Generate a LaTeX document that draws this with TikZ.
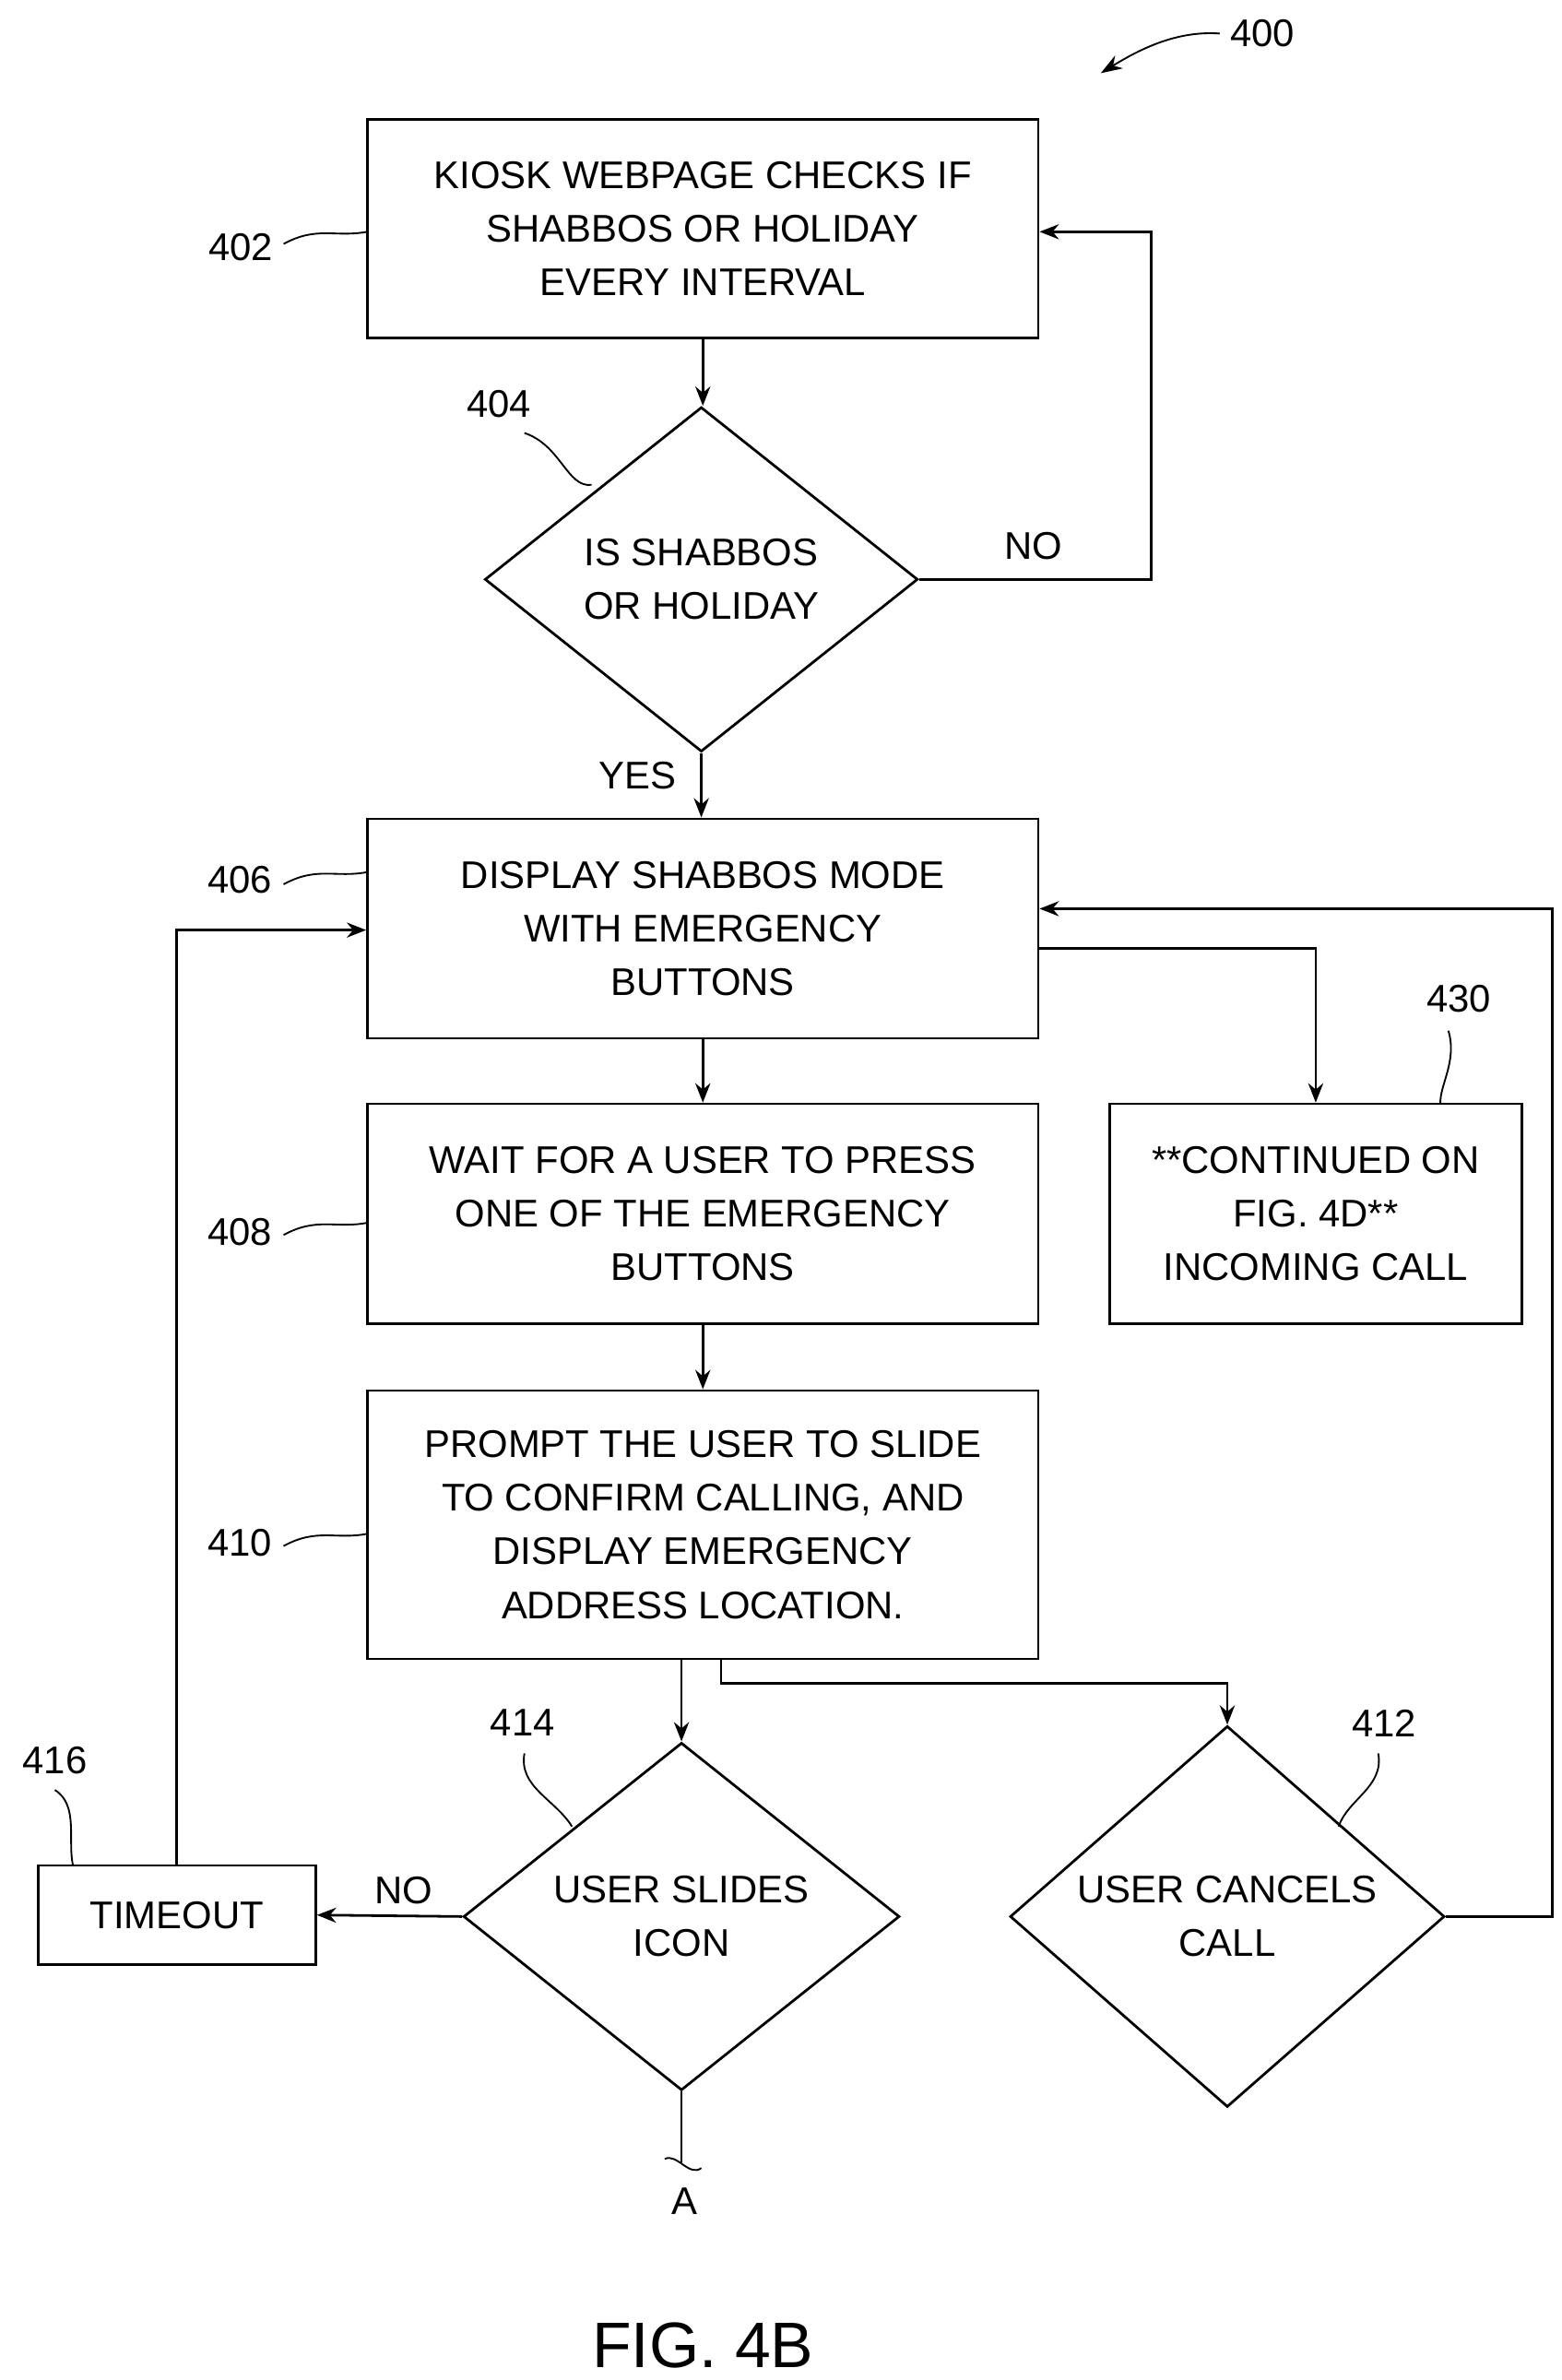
\documentclass[tikz,border=0pt]{standalone}
\usepackage{fontspec}
\setmainfont{Liberation Sans}
\usetikzlibrary{shapes.geometric,arrows.meta}
\begin{document}
\begin{tikzpicture}[
  every node/.style={font=\fontsize{18}{25}\selectfont},
  box/.style={draw,line width=1.2pt,align=center,inner sep=0pt,minimum width=11cm},
  dia/.style={draw,diamond,line width=1.2pt,align=center,inner sep=0pt},
  ar/.style={line width=1.2pt,-{Stealth[length=9pt,width=7pt]}},
  ln/.style={line width=1.2pt},
  lead/.style={line width=0.8pt}]
\useasboundingbox (0,0) rectangle (25.6,-39.025);
\node[box,minimum height=3.575cm] (b402) at (11.525,-3.75) {KIOSK WEBPAGE CHECKS IF\\SHABBOS OR HOLIDAY\\EVERY INTERVAL};
\node[dia,minimum width=7.1cm,minimum height=5.65cm] (d404) at (11.5,-9.5) {IS SHABBOS\\OR HOLIDAY};
\node[box,minimum height=3.6cm] (b406) at (11.525,-15.225) {DISPLAY SHABBOS MODE\\WITH EMERGENCY\\BUTTONS};
\node[box,minimum height=3.6cm] (b408) at (11.525,-19.9) {WAIT FOR A USER TO PRESS\\ONE OF THE EMERGENCY\\BUTTONS};
\node[box,minimum width=6.75cm,minimum height=3.6cm] (b430) at (21.575,-19.9) {**CONTINUED ON\\FIG. 4D**\\INCOMING CALL};
\node[box,minimum height=4.4cm] (b410) at (11.525,-25) {PROMPT THE USER TO SLIDE\\TO CONFIRM CALLING, AND\\DISPLAY EMERGENCY\\ADDRESS LOCATION.};
\node[dia,minimum width=7.15cm,minimum height=5.7cm] (d414) at (11.175,-31.425) {USER SLIDES\\ICON};
\node[dia,minimum width=7.125cm,minimum height=5.7cm] (d412) at (20.125,-31.425) {USER CANCELS\\CALL};
\node[box,minimum width=4.55cm,minimum height=1.625cm] (b416) at (2.9,-31.4) {TIMEOUT};

\draw[ar] (b402.south) -- (b402.south |- d404.north);
\draw[ar] (d404.east) -| (18.875,-3.8) -- (b402.east |- 0,-3.8);
\node at (16.95,-8.95) {NO};
\draw[ar] (d404.south) -- (b406.north -| d404.south);
\node at (10.45,-12.72) {YES};
\draw[ar] (b406.south) -- (b408.north);
\draw[ar] (b408.south) -- (b410.north);
\draw[ar] (b406.east |- 0,-15.55) -| (b430.north);
\draw[ar] (d412.east) -| (25.45,-14.9) -- (b406.east |- 0,-14.9);
\draw[ar] (b410.south -| d414.north) -- (d414.north);
\draw[ar] (11.825,-27.2) -- (11.825,-27.6) -| (d412.north);
\draw[ar] (d414.west) -- (b416.east);
\node at (6.62,-31.0) {NO};
\draw[ar] (b416.north) -- (2.9,-15.25) -- (b406.west |- 0,-15.25);
\coordinate (ca) at (11.175,-35.45);
\draw[ln] (d414.south) -- (ca);
\draw[lead] (10.9,-35.4) .. controls (11.1,-35.3) and (11.3,-35.7) .. (11.5,-35.55);
\node at (11.225,-36.1) {A};

\node at (20.7,-0.55) {400};
\draw[lead,-{Stealth[length=10pt,width=7pt]}] (20.0,-0.55) .. controls (19.3,-0.5) and (18.7,-0.8) .. (18.05,-1.2);
\node (l402) at (3.95,-4.05) {402};
\draw[lead] (4.65,-4.0) .. controls (5.2,-3.7) and (5.5,-3.9) .. (6.02,-3.8);
\node (l404) at (8.18,-6.62) {404};
\draw[lead] (8.6,-7.1) .. controls (9.2,-7.3) and (9.3,-8.0) .. (9.7,-7.95);
\node at (3.93,-14.42) {406};
\draw[lead] (4.65,-14.5) .. controls (5.2,-14.2) and (5.5,-14.4) .. (6.02,-14.3);
\node at (3.93,-20.2) {408};
\draw[lead] (4.65,-20.25) .. controls (5.2,-19.95) and (5.5,-20.15) .. (6.02,-20.05);
\node at (3.93,-25.3) {410};
\draw[lead] (4.65,-25.35) .. controls (5.2,-25.05) and (5.5,-25.25) .. (6.02,-25.15);
\node at (23.92,-16.37) {430};
\draw[lead] (23.75,-16.9) .. controls (23.9,-17.4) and (23.6,-17.8) .. (23.62,-18.1);
\node at (8.57,-28.25) {414};
\draw[lead] (8.6,-28.75) .. controls (8.5,-29.3) and (9.1,-29.5) .. (9.38,-29.95);
\node at (22.7,-28.25) {412};
\draw[lead] (22.6,-28.75) .. controls (22.7,-29.3) and (22.1,-29.5) .. (21.95,-29.95);
\node at (0.9,-28.87) {416};
\draw[lead] (0.9,-29.35) .. controls (1.3,-29.6) and (1.1,-30.2) .. (1.2,-30.6);

\node[font=\fontsize{30}{36}\selectfont] at (11.525,-38.45) {FIG. 4B};
\end{tikzpicture}
\end{document}
